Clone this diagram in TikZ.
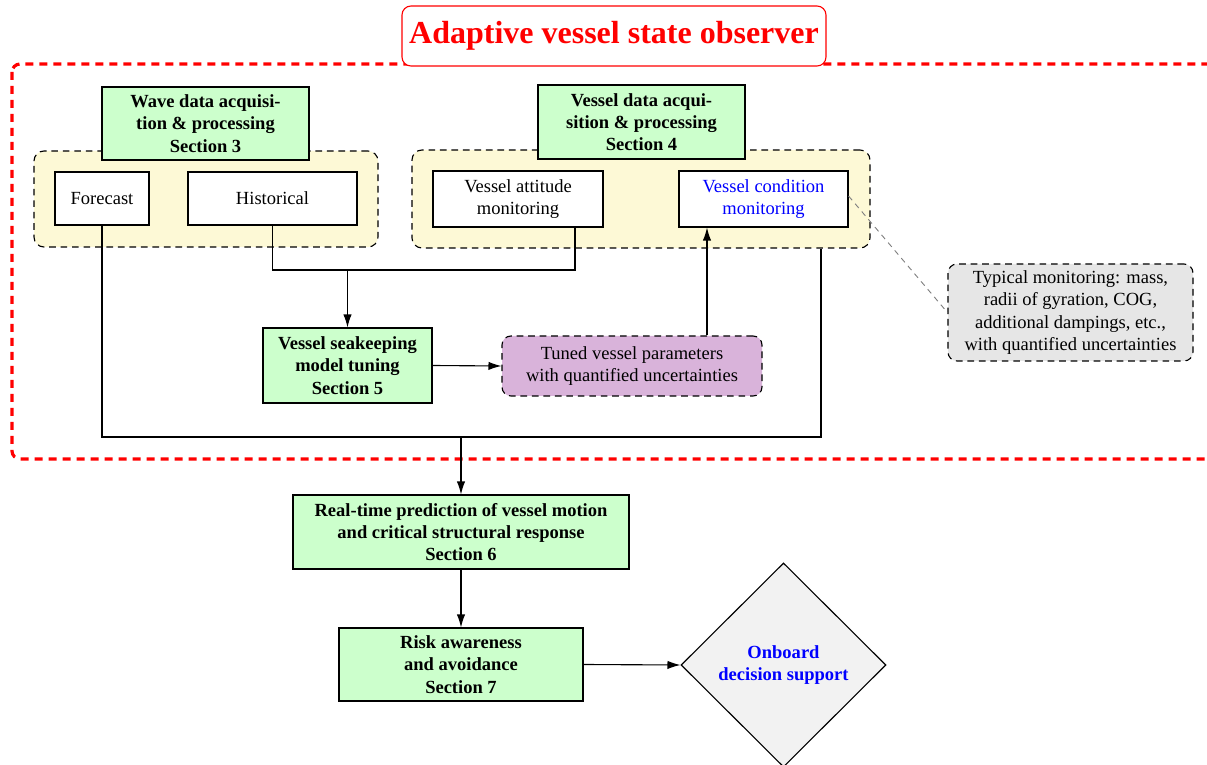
\documentclass[tikz,border=0pt]{standalone}
\usepackage{fontspec}
\setmainfont{Liberation Serif}
\usetikzlibrary{arrows.meta,shapes.geometric}
\newdimen\pxu \pxu=0.54pt
\definecolor{gfill}{HTML}{CCFFCC}
\definecolor{yfill}{HTML}{FDF9D6}
\definecolor{pfill}{HTML}{D9B3DA}
\definecolor{tfill}{HTML}{E6E6E6}
\definecolor{dfill}{HTML}{F2F2F2}
\begin{document}
\begin{tikzpicture}[x=0.54pt,y=-0.54pt,
  line width=0.6pt,
  greenbox/.style={draw, fill=gfill, font=\bfseries, align=center, inner sep=0pt},
  whitebox/.style={draw, fill=white, align=center, inner sep=0pt},
  dashbox/.style={draw, dash pattern=on 3.6pt off 2.6pt, rounded corners=9\pxu, inner sep=0pt, align=center},
  groupbox/.style={dashbox, fill=yfill, rounded corners=10\pxu},
  arr/.style={-{Latex[length=7pt,width=4.5pt]}}]
\useasboundingbox (0,0) rectangle (1207,765);

% outer red dashed frame
\draw[red, line width=1.7pt, dash pattern=on 8\pxu off 6\pxu, rounded corners=8\pxu]
  (12,64) rectangle (1240,459);
\node[draw=red, fill=white, rounded corners=9\pxu, text=red, font=\LARGE\bfseries,
  minimum width=424\pxu, minimum height=60\pxu, inner sep=0pt] (title) at (614,36)
  {Adaptive vessel state observer};

% wave group
\node[groupbox, minimum width=344\pxu, minimum height=96\pxu] (wgroup) at (206,199) {};
\node[greenbox, minimum width=207\pxu, minimum height=73\pxu] (wave) at (205.5,123.5)
  {Wave data acquisi-\\tion \& processing\\Section 3};
\node[whitebox, minimum width=94\pxu, minimum height=53\pxu] (fore) at (102,198.5) {Forecast};
\node[whitebox, minimum width=169\pxu, minimum height=53\pxu] (hist) at (272.5,198.5) {Historical};

% vessel group
\node[groupbox, minimum width=458\pxu, minimum height=98\pxu] (vgroup) at (641,199) {};
\node[greenbox, minimum width=207\pxu, minimum height=74\pxu] (vessel) at (641.5,122)
  {Vessel data acqui-\\sition \& processing\\Section 4};
\node[whitebox, minimum width=170\pxu, minimum height=56\pxu] (att) at (518,199)
  {Vessel attitude\\monitoring};
\node[whitebox, minimum width=169\pxu, minimum height=56\pxu, text=blue] (cond) at (763.5,199)
  {Vessel condition\\monitoring};

% middle
\node[greenbox, minimum width=169\pxu, minimum height=75\pxu] (seak) at (347.5,365.5)
  {Vessel seakeeping\\model tuning\\Section 5};
\node[dashbox, fill=pfill, minimum width=260\pxu, minimum height=60\pxu] (tuned) at (632,366)
  {Tuned vessel parameters\\with quantified uncertainties};
\node[dashbox, fill=tfill, minimum width=245\pxu, minimum height=97\pxu] (typ) at (1070.5,312.5)
  {Typical monitoring: mass,\\radii of gyration, COG,\\additional dampings, etc.,\\with quantified uncertainties};

% lower
\node[greenbox, minimum width=336\pxu, minimum height=74\pxu] (rt) at (461,532)
  {Real-time prediction of vessel motion\\and critical structural response\\Section 6};
\node[greenbox, minimum width=244\pxu, minimum height=73\pxu] (risk) at (461,664.5)
  {Risk awareness\\and avoidance\\Section 7};
\node[diamond, draw, fill=dfill, inner sep=0pt, minimum width=205\pxu, minimum height=204\pxu,
  align=center, font=\bfseries, text=blue] (dec) at (783.5,665)
  {Onboard\\decision support};

% connectors
\coordinate (j1) at (575,270);
\coordinate (j2) at (821,437);
\draw (hist.south) |- (j1) -- (j1 |- att.south);
\draw[arr] (seak.north |- j1) -- (seak.north);
\draw[arr] (seak.east) -- (tuned.west);
\draw[arr] (tuned.north -| 707,0) -- (cond.south -| 707,0);
\draw (fore.south) |- (j2) -- (j2 |- vgroup.south);
\draw[arr] (rt.north |- j2) -- (rt.north);
\draw[arr] (rt.south) -- (risk.north);
\draw[arr] (risk.east) -- (dec.west);
\draw[gray, dash pattern=on 3pt off 2.5pt, line width=0.5pt] ([yshift=3\pxu]cond.east) -- (typ.west);
\end{tikzpicture}
\end{document}
